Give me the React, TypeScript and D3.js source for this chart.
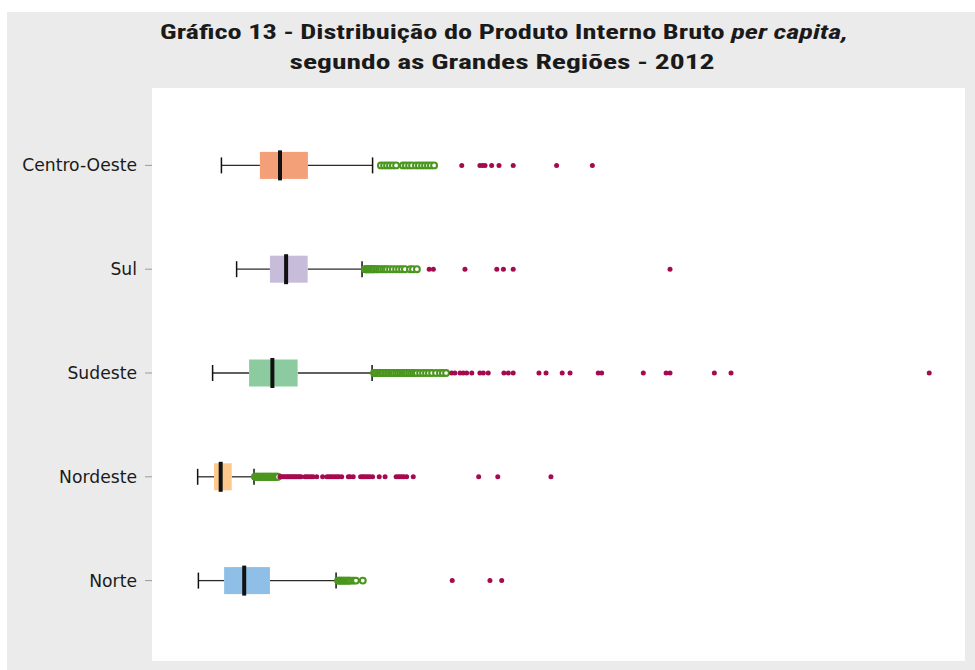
import React from "react";
import * as d3 from "d3";

// PIB per capita (R$ 1 000), 2012
const regions = ["Centro-Oeste", "Sul", "Sudeste", "Nordeste", "Norte"];
const whiskerLow = [11.6, 17.8, 8.0, 1.9, 2.2];
const q1 = [27.3, 31.4, 22.9, 8.6, 12.7];
const median = [35.5, 38.0, 32.4, 11.3, 20.9];
const q3 = [46.9, 46.8, 42.7, 15.8, 31.4];
const whiskerHigh = [73.3, 69.0, 73.1, 24.9, 58.4];
const boxColors = ["#F3A078", "#C8BCDB", "#8BCB9F", "#FDC88C", "#8FBFE6"];

const mildOutliers = [
  [76.7, 78.0, 79.2, 80.4, 81.6, 82.9, 85.7, 86.9, 88.2, 89.4, 91.0, 92.2, 93.5, 94.7, 95.9, 97.1, 98.4],
  [70.2, 70.6, 71.0, 71.4, 71.8, 72.2, 72.7, 73.1, 73.5, 73.9, 74.7, 75.1, 75.9, 76.7, 77.6, 78.4, 79.2, 80.4, 81.6, 82.9, 84.1, 85.3, 86.5, 88.6, 89.8, 91.4],
  [73.9, 74.3, 74.7, 75.5, 75.9, 76.3, 77.1, 77.6, 78.4, 78.8, 79.6, 80.0, 80.8, 81.2, 82.0, 82.9, 83.7, 84.5, 85.3, 85.7, 86.5, 87.3, 88.2, 89.0, 89.8, 90.6, 91.4, 92.7, 93.9, 95.1, 96.3, 97.6, 99.2, 100.8, 102.0, 103.3],
  [25.3, 25.7, 26.1, 26.5, 26.9, 27.3, 27.8, 28.2, 28.6, 29.0, 29.4, 29.8, 30.2, 30.6, 31.0, 31.4, 31.8, 32.2, 32.7, 33.1, 33.5, 33.9, 34.3, 34.7],
  [59.2, 59.6, 60.0, 60.4, 60.8, 61.2, 61.6, 62.0, 62.4, 62.9, 63.3, 63.7, 64.1, 64.9, 65.7, 66.5, 69.3],
];

const extremeOutliers = [
  [109.7, 117.1, 118.2, 119.2, 121.9, 124.9, 130.7, 148.4, 163.0],
  [96.4, 98.1, 111.0, 124.0, 126.7, 130.7, 194.7],
  [105.6, 106.9, 109.0, 110.3, 111.7, 113.8, 117.1, 118.5, 120.5, 126.9, 128.7, 130.7, 141.2, 144.1, 150.7, 153.9, 165.4, 166.8, 183.8, 193.1, 194.7, 212.8, 219.6, 300.5],
  [35.5, 36.1, 36.7, 37.3, 38.0, 38.6, 39.2, 39.8, 40.4, 41.0, 41.6, 42.2, 42.9, 43.5, 44.1, 45.7, 46.5, 47.3, 48.2, 49.0, 50.5, 52.9, 54.7, 55.5, 56.3, 57.1, 58.0, 58.8, 59.6, 60.7, 63.4, 64.1, 65.4, 68.4, 69.2, 69.8, 70.6, 71.4, 72.2, 73.3, 76.0, 78.4, 82.9, 83.7, 84.5, 85.3, 86.1, 87.2, 89.9, 116.6, 124.4, 146.1],
  [105.8, 121.2, 126.0],
];

const W = 975;
const H = 670;
const panel = { x0: 152, x1: 965, y0: 88, y1: 661 };

export default function App() {
  const x = d3.scaleLinear().domain([0, 300]).range([193, 928]);
  const y = d3.scalePoint<string>().domain(regions).range([panel.y0 - 1.5, panel.y1 - 1.5]).padding(0.76);
  const boxH = 27;
  const capH = 16;

  return (
    <svg width={W} height={H} style={{ position: "absolute", left: 0, top: 0 }}>
      <rect x={7} y={12} width={W - 7} height={H - 12} fill="#EBEBEB" />
      <rect x={panel.x0} y={panel.y0} width={panel.x1 - panel.x0} height={panel.y1 - panel.y0} fill="#FFFFFF" />
      <g fontFamily="'Liberation Sans Narrow', 'Roboto Condensed', 'Roboto', sans-serif" fontWeight="bold" fontSize={21} fill="#1a1a1a" textAnchor="middle">
        <text x={504} y={39} textLength={688} lengthAdjust="spacingAndGlyphs">
          Gráfico 13 - Distribuição do Produto Interno Bruto <tspan fontStyle="italic">per capita,</tspan>
        </text>
        <text x={502} y={69} textLength={425} lengthAdjust="spacingAndGlyphs">
          segundo as Grandes Regiões - 2012
        </text>
      </g>
      {regions.map((r, i) => {
        const cy = y(r)!;
        return (
          <g key={r}>
            <line x1={145} x2={152} y1={cy} y2={cy} stroke="#9a9a9a" strokeWidth={1} />
            <text x={137} y={cy} dy="0.35em" textAnchor="end" fontFamily="'DejaVu Sans', sans-serif" fontSize={17.2} fill="#1a1a1a">
              {r}
            </text>
            <line x1={x(whiskerLow[i])} x2={x(q1[i])} y1={cy} y2={cy} stroke="#2b2b2b" strokeWidth={1.3} />
            <line x1={x(q3[i])} x2={x(whiskerHigh[i])} y1={cy} y2={cy} stroke="#2b2b2b" strokeWidth={1.3} />
            <line x1={x(whiskerLow[i])} x2={x(whiskerLow[i])} y1={cy - capH / 2} y2={cy + capH / 2} stroke="#111" strokeWidth={1.5} />
            <line x1={x(whiskerHigh[i])} x2={x(whiskerHigh[i])} y1={cy - capH / 2} y2={cy + capH / 2} stroke="#111" strokeWidth={1.5} />
            <rect x={x(q1[i])} y={cy - boxH / 2} width={x(q3[i]) - x(q1[i])} height={boxH} fill={boxColors[i]} />
            <line x1={x(median[i])} x2={x(median[i])} y1={cy - boxH / 2 - 1.5} y2={cy + boxH / 2 + 1.5} stroke="#111" strokeWidth={4} />
            {mildOutliers[i].map((v, j) => (
              <circle key={"m" + j} cx={x(v)} cy={cy} r={2.9} fill="#FFFFFF" stroke="#4B961E" strokeWidth={2.1} />
            ))}
            {extremeOutliers[i].map((v, j) => (
              <circle key={"e" + j} cx={x(v)} cy={cy} r={2.5} fill="#A50A4F" />
            ))}
          </g>
        );
      })}
    </svg>
  );
}
